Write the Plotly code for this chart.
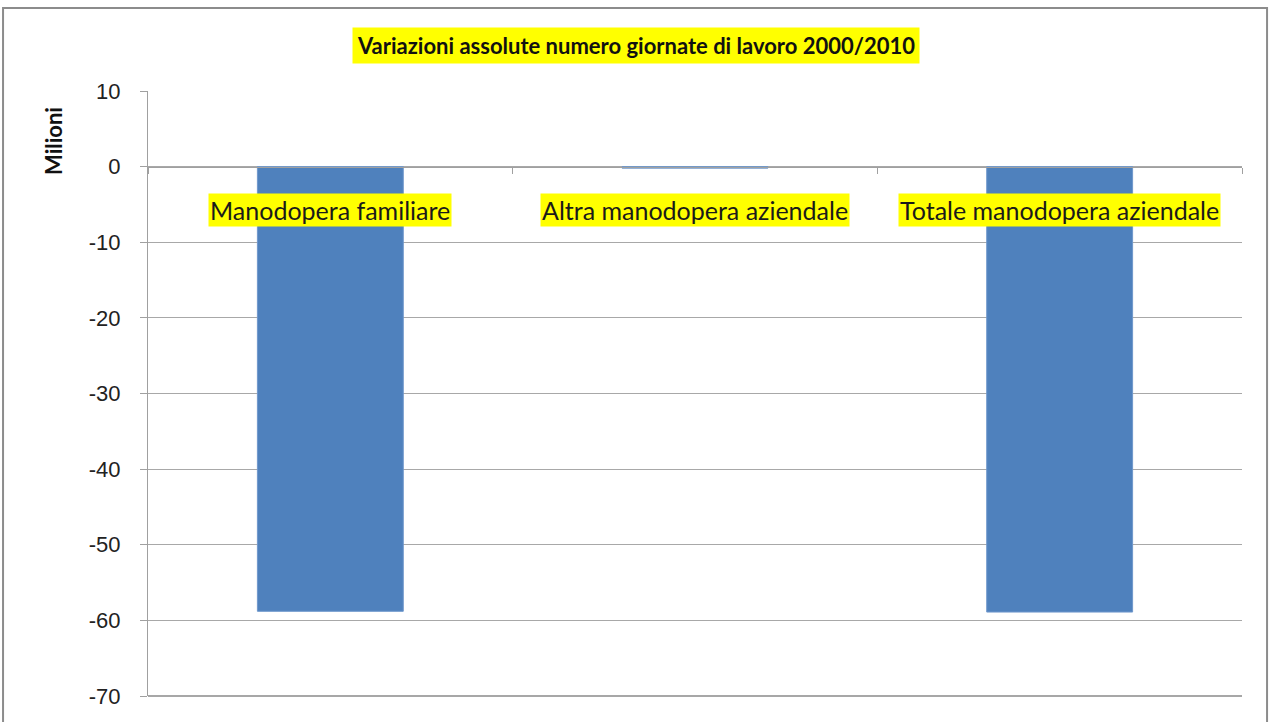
import plotly.graph_objects as go

categories = ["Manodopera familiare", "Altra manodopera aziendale", "Totale manodopera aziendale"]
values = [-58.8, -0.2, -58.9]
tick_vals = [10, 0, -10, -20, -30, -40, -50, -60, -70]
title_text = "Variazioni assolute numero giornate di lavoro 2000/2010"
y_title = "Milioni"

FONT = "Lato, 'Open Sans', sans-serif"

fig = go.Figure()
fig.add_trace(go.Bar(
    x=categories, y=values, width=0.4,
    marker=dict(color="#4F81BD", line=dict(color="#6f98cc", width=1)),
    hoverinfo="x+y",
))

for c in categories:
    fig.add_annotation(
        x=c, y=0, xref="x", yref="y", text=c, showarrow=False,
        yanchor="top", yshift=-26, bgcolor="#FFFF00",
        font=dict(family=FONT, size=25, color="#1a1a1a"), borderpad=1,
    )

fig.add_annotation(
    x=(636 - 148) / 1094, y=(696 - 45) / 605, xref="paper", yref="paper",
    text="<b>" + title_text + "</b>",
    showarrow=False, bgcolor="#FFFF00", font=dict(family=FONT, size=22, color="#111"),
    xanchor="center", yanchor="middle", borderpad=4,
)

fig.add_annotation(
    x=(54 - 148) / 1094, y=(696 - 141) / 605, xref="paper", yref="paper",
    text="<b>" + y_title + "</b>", showarrow=False, textangle=-90,
    xanchor="center", yanchor="middle",
    font=dict(family=FONT, size=22, color="#111"),
)

fig.add_shape(type="rect", xref="paper", yref="paper",
              x0=-0.1325, x1=1.0229, y0=-0.2, y1=1.137,
              line=dict(color="#8c8c8c", width=2), fillcolor="rgba(0,0,0,0)", layer="below")
fig.add_shape(type="line", xref="paper", yref="paper", x0=0, x1=1, y0=0, y1=0,
              line=dict(color="#8a8a8a", width=1.5))

fig.update_layout(
    width=1271, height=722,
    margin=dict(l=148, r=29, t=91, b=26),
    paper_bgcolor="white", plot_bgcolor="white",
    showlegend=False,
    xaxis=dict(
        type="category", showticklabels=False, anchor="free", position=0.875,
        showline=True, linecolor="#a0a0a0", linewidth=1,
        ticks="outside", tickson="boundaries", ticklen=6, tickcolor="#a0a0a0",
        showgrid=False, zeroline=False,
    ),
    yaxis=dict(
        range=[-70, 10], tickvals=tick_vals, ticktext=[str(v) for v in tick_vals],
        showline=True, linecolor="#a0a0a0", linewidth=1,
        ticks="outside", ticklen=7, tickcolor="#a0a0a0",
        gridcolor="#a8a8a8", gridwidth=1, zeroline=False,
        tickfont=dict(family="Liberation Sans, Arial, sans-serif", size=22, color="#222"),
        ticklabelstandoff=15,
    ),
)

fig.write_html("out.html", config={"displayModeBar": False},
               post_script="document.body.style.margin='0';")
